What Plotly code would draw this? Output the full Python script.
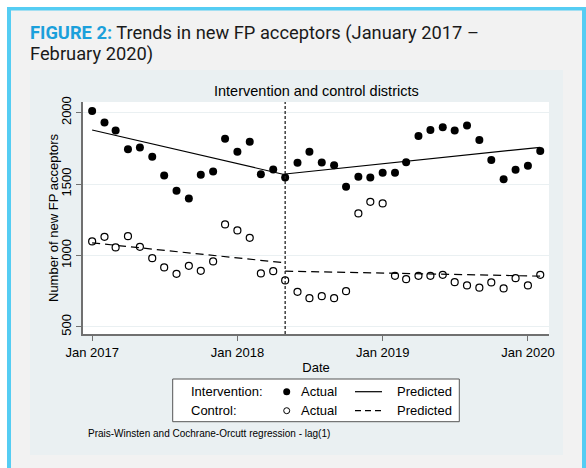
import pandas as pd
import plotly.graph_objects as go

# ---------------- data ----------------
months = pd.date_range("2017-01-01", "2020-02-01", freq="MS")  # Jan 2017 .. Feb 2020 (38 months)

intervention_actual = [2011, 1930, 1874, 1743, 1755, 1690, 1559, 1452, 1398, 1564,
                       1587, 1816, 1725, 1795, 1569, 1601, 1545, 1648, 1725, 1650,
                       1631, 1480, 1550, 1545, 1578, 1578, 1652, 1836, 1878, 1897,
                       1874, 1909, 1808, 1668, 1534, 1599, 1627, 1731]

control_actual = [1098, 1130, 1056, 1135, 1060, 981, 916, 871, 927, 892,
                  958, 1217, 1175, 1123, 874, 890, 825, 745, 701, 715,
                  701, 750, 1294, 1375, 1364, 857, 834, 857, 857, 864,
                  813, 790, 774, 811, 769, 841, 790, 864]

intervention_start = "2018-05-01"

# predicted (segmented regression) end points
pre_dates = ["2017-01-01", "2018-05-01"]
post_dates = ["2018-05-01", "2020-02-01"]
intervention_pred_pre = [1878, 1565]
intervention_pred_post = [1570, 1757]
control_pred_pre = [1088, 948]
control_pred_post = [890, 855]

tick_dates = ["2017-01-01", "2018-01-01", "2019-01-01", "2020-01-01"]
tick_labels = ["Jan 2017", "Jan 2018", "Jan 2019", "Jan 2020"]
y_ticks = [500, 1000, 1500, 2000]

# ---------------- layout helpers ----------------
W, H = 586, 468
L, R, T, B = 83, 37, 102, 134
PW, PH = W - L - R, H - T - B


def px(x):
    return (x - L) / PW


def py(y):
    return 1 - (y - T) / PH


FONT = "Arial, Liberation Sans, sans-serif"
TITLE_FONT = "Liberation Sans Narrow, Arial Narrow, Roboto, Arial, sans-serif"
AXIS_GRAY = "#707070"

fig = go.Figure()

fig.add_trace(go.Scatter(x=months, y=intervention_actual, mode="markers",
                         marker=dict(symbol="circle", size=8, color="black"),
                         showlegend=False))
fig.add_trace(go.Scatter(x=months, y=control_actual, mode="markers",
                         marker=dict(symbol="circle-open", size=7, color="black",
                                     line=dict(width=1.2, color="black")),
                         showlegend=False))
for xs, ys in [(pre_dates, intervention_pred_pre), (post_dates, intervention_pred_post)]:
    fig.add_trace(go.Scatter(x=xs, y=ys, mode="lines",
                             line=dict(color="black", width=1.2), showlegend=False))
for xs, ys in [(pre_dates, control_pred_pre), (post_dates, control_pred_post)]:
    fig.add_trace(go.Scatter(x=xs, y=ys, mode="lines",
                             line=dict(color="black", width=1.2, dash="8px,5px"),
                             showlegend=False))

shapes = [
    # outer cyan frame, grey card, Stata graph region, white plot region
    dict(type="rect", xref="paper", yref="paper", x0=px(7), x1=px(600), y0=py(7), y1=py(500),
         fillcolor="#55CDF3", line=dict(width=0), layer="below"),
    dict(type="rect", xref="paper", yref="paper", x0=px(11), x1=px(582), y0=py(10.5), y1=py(500),
         fillcolor="#F2F2F2", line=dict(width=0), layer="below"),
    dict(type="rect", xref="paper", yref="paper", x0=px(30), x1=px(563), y0=py(70), y1=py(455),
         fillcolor="#EAF0F2", line=dict(width=0), layer="below"),
    dict(type="rect", xref="paper", yref="paper", x0=0, x1=1, y0=0, y1=1,
         fillcolor="white", line=dict(width=0), layer="below"),
    # intervention start
    dict(type="line", xref="x", yref="paper", x0=intervention_start, x1=intervention_start,
         y0=0, y1=1, line=dict(color="#222222", width=1.3, dash="3px,2px")),
    # legend box
    dict(type="rect", xref="paper", yref="paper", x0=px(172.7), x1=px(459.3), y0=py(379), y1=py(421.7),
         fillcolor="white", line=dict(color="#555555", width=1)),
    dict(type="circle", xref="paper", yref="paper", xsizemode="pixel", ysizemode="pixel",
         xanchor=px(286.7), yanchor=py(391.7), x0=-3.5, x1=3.5, y0=-3.5, y1=3.5,
         fillcolor="black", line=dict(color="black", width=0)),
    dict(type="circle", xref="paper", yref="paper", xsizemode="pixel", ysizemode="pixel",
         xanchor=px(286.7), yanchor=py(410.7), x0=-3, x1=3, y0=-3, y1=3,
         fillcolor="white", line=dict(color="black", width=1)),
    dict(type="line", xref="paper", yref="paper", x0=px(355), x1=px(382), y0=py(391.7), y1=py(391.7),
         line=dict(color="black", width=1.2)),
    dict(type="line", xref="paper", yref="paper", x0=px(355), x1=px(382), y0=py(410.7), y1=py(410.7),
         line=dict(color="black", width=1.2, dash="6px,4px")),
]

annotations = [
    dict(text="<span style='color:#1BA0DB'><b>FIGURE 2:</b></span> Trends in new FP acceptors (January 2017 \u2013",
         x=px(28), y=py(33), xanchor="left", yanchor="middle",
         font=dict(family=TITLE_FONT, size=18.3, color="#1a1a1a")),
    dict(text="February 2020)", x=px(28), y=py(53.5), xanchor="left", yanchor="middle",
         font=dict(family=TITLE_FONT, size=18.3, color="#1a1a1a")),
    dict(text="Intervention and control districts", x=0.5, y=py(91.5), xanchor="center", yanchor="middle",
         font=dict(family=FONT, size=14.5, color="black")),
    dict(text="Number of new FP acceptors", x=px(53), y=0.5, xanchor="center", yanchor="middle",
         textangle=-90, font=dict(family=FONT, size=13, color="black")),
    dict(text="Intervention:", x=px(189), y=py(391.7), xanchor="left", yanchor="middle",
         font=dict(family=FONT, size=13, color="black")),
    dict(text="Control:", x=px(189), y=py(410.7), xanchor="left", yanchor="middle",
         font=dict(family=FONT, size=13, color="black")),
    dict(text="Actual", x=px(299), y=py(391.7), xanchor="left", yanchor="middle",
         font=dict(family=FONT, size=13, color="black")),
    dict(text="Actual", x=px(299), y=py(410.7), xanchor="left", yanchor="middle",
         font=dict(family=FONT, size=13, color="black")),
    dict(text="Predicted", x=px(395), y=py(391.7), xanchor="left", yanchor="middle",
         font=dict(family=FONT, size=13, color="black")),
    dict(text="Predicted", x=px(395), y=py(410.7), xanchor="left", yanchor="middle",
         font=dict(family=FONT, size=13, color="black")),
    dict(text="Prais-Winsten and Cochrane-Orcutt regression - lag(1)", x=px(86), y=py(433.5),
         xanchor="left", yanchor="middle", font=dict(family=FONT, size=10, color="black")),
]
for a in annotations:
    a.update(xref="paper", yref="paper", showarrow=False)

fig.update_layout(
    width=W, height=H,
    margin=dict(l=L, r=R, t=T, b=B, autoexpand=False),
    paper_bgcolor="white", plot_bgcolor="white",
    shapes=shapes, annotations=annotations,
    showlegend=False,
    font=dict(family=FONT, color="black"),
)

fig.update_xaxes(
    type="date", range=["2016-12-09", "2020-02-23"],
    tickvals=tick_dates, ticktext=tick_labels,
    ticks="outside", ticklen=5, tickwidth=1, tickcolor=AXIS_GRAY,
    showline=True, linewidth=2, linecolor=AXIS_GRAY,
    showgrid=False, zeroline=False,
    tickfont=dict(family=FONT, size=13, color="black"),
    title=dict(text="Date", font=dict(family=FONT, size=13, color="black"), standoff=4),
)
fig.update_yaxes(
    range=[450, 2074], tickvals=y_ticks, tickangle=-90,
    ticks="outside", ticklen=5, tickwidth=1, tickcolor=AXIS_GRAY,
    showline=True, linewidth=2, linecolor=AXIS_GRAY,
    showgrid=True, gridcolor="#EAF0F2", gridwidth=1, zeroline=False,
    tickfont=dict(family=FONT, size=13, color="black"),
)

fig.write_html("out.html")
